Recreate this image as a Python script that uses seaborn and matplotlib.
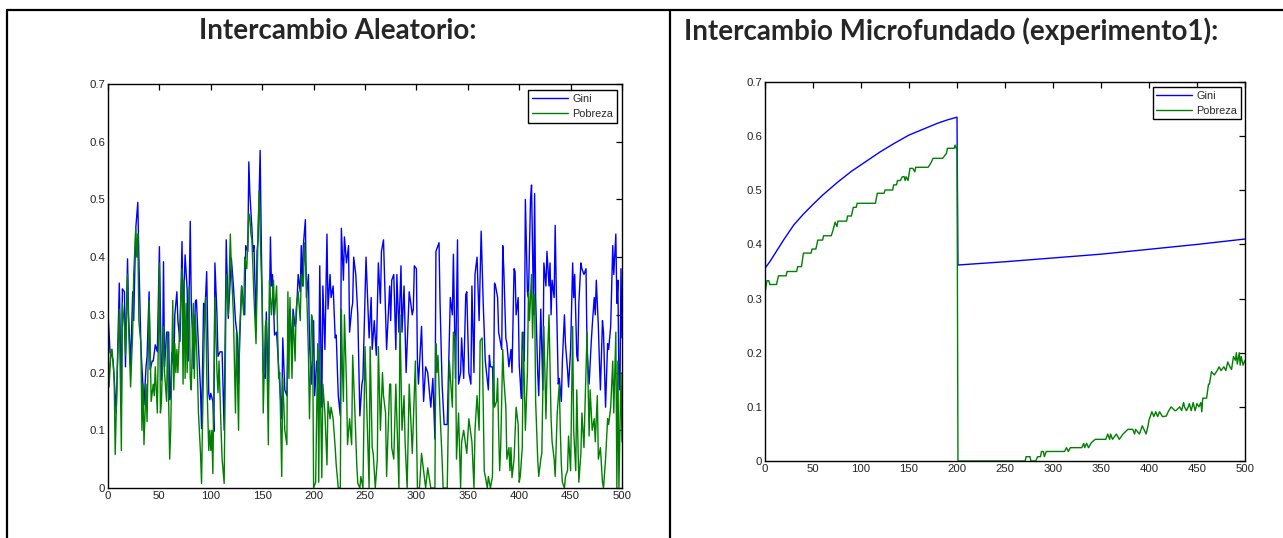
import matplotlib
matplotlib.use("Agg")
import matplotlib.pyplot as plt
from matplotlib.lines import Line2D
import seaborn as sns
import pandas as pd

# ---------------- data ----------------
series_names = ["Gini", "Pobreza"]
titles = ["Intercambio Aleatorio:", "Intercambio Microfundado (experimento1):"]
x_ticks = [0, 50, 100, 150, 200, 250, 300, 350, 400, 450, 500]
y_ticks = [0, 0.1, 0.2, 0.3, 0.4, 0.5, 0.6, 0.7]
y_tick_labels = ["0", "0.1", "0.2", "0.3", "0.4", "0.5", "0.6", "0.7"]

# Left panel: random exchange
left_gini_steps = [0, 2, 4, 5, 8, 11, 13, 14, 16, 17, 19, 20, 22, 24, 25, 27, 29, 30, 32, 33, 35, 37, 38, 40, 41, 43, 44, 46, 48, 50,
                   52, 53, 54, 55, 57, 59, 60, 61, 62, 64, 65, 67, 68, 70, 72, 73, 75, 77, 78, 80, 81, 82, 83, 85, 86, 88, 90, 91, 93, 94,
                   96, 98, 99, 100, 102, 103, 104, 106, 107, 109, 111, 113, 115, 117, 120, 122, 124, 126, 127, 128, 130, 133, 134, 136, 137, 138, 140, 141, 142, 144,
                   145, 146, 148, 149, 150, 151, 153, 154, 156, 158, 159, 160, 162, 164, 166, 167, 169, 170, 172, 174, 175, 177, 179, 180, 182, 183, 185, 187, 188, 189,
                   190, 192, 193, 195, 196, 198, 200, 201, 203, 205, 206, 207, 208, 209, 211, 213, 214, 216, 217, 219, 221, 222, 224, 226, 227, 229, 230, 232, 234, 235,
                   237, 238, 239, 241, 243, 245, 247, 248, 251, 254, 256, 257, 259, 261, 263, 265, 266, 268, 271, 274, 275, 276, 278, 280, 281, 283, 285, 286, 288, 290,
                   293, 296, 297, 298, 300, 301, 302, 305, 307, 309, 311, 314, 316, 318, 319, 322, 323, 325, 327, 330, 333, 335, 336, 338, 340, 341, 343, 344, 346, 348,
                   349, 351, 353, 354, 356, 357, 359, 361, 363, 365, 367, 370, 371, 372, 374, 375, 376, 377, 379, 380, 381, 383, 384, 385, 387, 388, 390, 392, 393, 395,
                   396, 397, 399, 400, 402, 403, 405, 406, 408, 409, 411, 412, 413, 414, 415, 416, 418, 419, 421, 423, 424, 426, 427, 429, 430, 431, 432, 434, 435, 436,
                   438, 439, 441, 442, 444, 445, 447, 448, 450, 452, 453, 454, 456, 457, 458, 460, 461, 463, 465, 466, 468, 470, 471, 473, 474, 475, 477, 478, 479, 481,
                   482, 484, 486, 487, 489, 491, 492, 494, 495, 496, 497, 498, 499, 500]
left_gini_values = [0.305, 0.235, 0.228, 0.22, 0.13, 0.355, 0.147, 0.345, 0.34, 0.21, 0.397, 0.30, 0.21, 0.34, 0.29, 0.45, 0.495, 0.40, 0.245, 0.21, 0.144, 0.21, 0.228, 0.34, 0.205, 0.22, 0.22, 0.248, 0.236, 0.418,
                    0.187, 0.2, 0.392, 0.21, 0.27, 0.27, 0.153, 0.17, 0.235, 0.21, 0.30, 0.34, 0.29, 0.254, 0.427, 0.29, 0.404, 0.343, 0.22, 0.462, 0.32, 0.274, 0.207, 0.323, 0.326, 0.245, 0.17, 0.103, 0.32, 0.294,
                    0.375, 0.164, 0.153, 0.164, 0.15, 0.098, 0.39, 0.30, 0.228, 0.236, 0.236, 0.10, 0.43, 0.294, 0.398, 0.35, 0.29, 0.26, 0.18, 0.25, 0.35, 0.30, 0.42, 0.41, 0.565, 0.51, 0.45, 0.41, 0.42, 0.28,
                    0.41, 0.43, 0.585, 0.44, 0.32, 0.2, 0.19, 0.305, 0.17, 0.435, 0.35, 0.37, 0.265, 0.27, 0.21, 0.18, 0.12, 0.26, 0.17, 0.16, 0.25, 0.31, 0.24, 0.31, 0.28, 0.29, 0.37, 0.34, 0.42, 0.35,
                    0.42, 0.465, 0.33, 0.37, 0.25, 0.18, 0.29, 0.16, 0.22, 0.18, 0.385, 0.25, 0.14, 0.35, 0.24, 0.44, 0.31, 0.37, 0.33, 0.35, 0.26, 0.265, 0.16, 0.125, 0.45, 0.36, 0.435, 0.39, 0.42, 0.27,
                    0.31, 0.32, 0.40, 0.37, 0.3, 0.125, 0.18, 0.19, 0.40, 0.26, 0.33, 0.24, 0.29, 0.23, 0.39, 0.32, 0.41, 0.43, 0.24, 0.35, 0.29, 0.36, 0.37, 0.24, 0.37, 0.27, 0.385, 0.27, 0.35, 0.2,
                    0.34, 0.30, 0.31, 0.385, 0.38, 0.22, 0.18, 0.28, 0.15, 0.21, 0.2, 0.14, 0.19, 0.085, 0.41, 0.425, 0.32, 0.18, 0.11, 0.11, 0.33, 0.30, 0.405, 0.19, 0.43, 0.18, 0.2, 0.26, 0.19, 0.335,
                    0.34, 0.2, 0.18, 0.35, 0.20, 0.37, 0.4, 0.29, 0.445, 0.32, 0.22, 0.17, 0.23, 0.21, 0.21, 0.145, 0.355, 0.35, 0.33, 0.27, 0.26, 0.24, 0.42, 0.38, 0.26, 0.25, 0.21, 0.24, 0.20, 0.38,
                    0.375, 0.30, 0.33, 0.215, 0.155, 0.27, 0.22, 0.50, 0.34, 0.33, 0.50, 0.525, 0.41, 0.30, 0.51, 0.33, 0.20, 0.16, 0.31, 0.17, 0.39, 0.35, 0.41, 0.35, 0.39, 0.30, 0.36, 0.33, 0.455, 0.35,
                    0.18, 0.19, 0.15, 0.22, 0.30, 0.25, 0.205, 0.175, 0.24, 0.39, 0.33, 0.37, 0.23, 0.22, 0.32, 0.39, 0.38, 0.37, 0.38, 0.24, 0.18, 0.25, 0.28, 0.33, 0.30, 0.36, 0.28, 0.22, 0.17, 0.29,
                    0.27, 0.14, 0.25, 0.24, 0.28, 0.42, 0.37, 0.44, 0.32, 0.36, 0.18, 0.17, 0.38, 0.26]

left_pob_steps = [0, 1, 3, 4, 6, 7, 9, 11, 13, 14, 16, 17, 19, 20, 22, 24, 25, 27, 28, 29, 30, 32, 33, 34, 35, 37, 38, 40, 41, 42,
                  44, 45, 46, 48, 50, 51, 52, 54, 55, 57, 58, 59, 60, 61, 63, 64, 65, 66, 67, 68, 70, 72, 73, 74, 75, 76, 77, 79, 80, 81,
                  83, 84, 85, 87, 88, 90, 91, 92, 94, 95, 96, 98, 99, 100, 101, 102, 104, 106, 107, 108, 110, 111, 113, 115, 117, 119, 120, 122, 124, 125,
                  127, 128, 130, 132, 133, 135, 137, 138, 139, 140, 142, 144, 146, 147, 148, 149, 150, 151, 153, 154, 156, 157, 159, 161, 162, 164, 166, 167, 169, 170,
                  172, 174, 175, 176, 177, 179, 180, 182, 183, 185, 187, 188, 190, 191, 193, 195, 196, 198, 199, 200, 201, 202, 204, 205, 206, 208, 209, 211, 213, 214,
                  216, 217, 219, 221, 222, 224, 226, 227, 228, 229, 230, 232, 233, 235, 237, 238, 240, 242, 243, 245, 246, 248, 250, 254, 255, 257, 258, 260, 262, 263,
                  265, 267, 268, 270, 271, 274, 275, 276, 278, 280, 283, 284, 286, 288, 289, 291, 293, 296, 299, 301, 303, 305, 309, 311, 314, 318, 319, 320, 321, 323,
                  325, 326, 330, 332, 335, 336, 338, 339, 341, 343, 344, 346, 349, 351, 354, 356, 357, 359, 361, 362, 364, 366, 369, 370, 372, 374, 375, 376, 378, 379,
                  380, 381, 382, 384, 385, 387, 388, 390, 391, 392, 393, 395, 396, 397, 399, 400, 401, 403, 404, 405, 406, 408, 409, 410, 412, 413, 414, 415, 416, 418,
                  419, 421, 422, 424, 426, 427, 429, 431, 432, 434, 435, 437, 439, 440, 441, 442, 444, 445, 447, 448, 450, 452, 453, 455, 456, 458, 460, 461, 463, 464,
                  466, 468, 469, 471, 473, 474, 476, 477, 479, 481, 482, 484, 486, 487, 489, 491, 492, 494, 495, 496, 497, 499, 500]
left_pob_values = [0.29, 0.175, 0.24, 0.24, 0.19, 0.058, 0.20, 0.31, 0.065, 0.32, 0.28, 0.23, 0.37, 0.28, 0.175, 0.27, 0.37, 0.45, 0.40, 0.44, 0.29, 0.25, 0.10, 0.18, 0.075, 0.18, 0.115, 0.325, 0.25, 0.15,
                   0.18, 0.16, 0.21, 0.13, 0.39, 0.13, 0.15, 0.28, 0.20, 0.15, 0.27, 0.15, 0.05, 0.10, 0.325, 0.17, 0.25, 0.2, 0.24, 0.2, 0.29, 0.38, 0.18, 0.36, 0.19, 0.32, 0.20, 0.35, 0.19, 0.17,
                   0.32, 0.19, 0.3, 0.2, 0.13, 0.06, 0.008, 0.12, 0.30, 0.33, 0.2, 0.065, 0.10, 0.065, 0.10, 0.025, 0.33, 0.2, 0.165, 0.22, 0.1, 0.05, 0.008, 0.37, 0.30, 0.44, 0.38, 0.3, 0.13, 0.27,
                   0.10, 0.27, 0.35, 0.30, 0.40, 0.38, 0.475, 0.47, 0.44, 0.43, 0.33, 0.25, 0.45, 0.515, 0.45, 0.38, 0.33, 0.13, 0.28, 0.29, 0.075, 0.36, 0.30, 0.36, 0.30, 0.35, 0.19, 0.2, 0.02, 0.19,
                   0.10, 0.075, 0.34, 0.19, 0.33, 0.19, 0.30, 0.22, 0.31, 0.34, 0.29, 0.37, 0.35, 0.425, 0.36, 0.23, 0.12, 0.30, 0.29, 0.0, 0.005, 0.01, 0.25, 0.01, 0.24, 0.018, 0.18, 0.13, 0.04, 0.15,
                   0.12, 0.14, 0.12, 0.07, 0.04, 0.0, 0.0, 0.31, 0.21, 0.15, 0.30, 0.18, 0.075, 0.12, 0.075, 0.23, 0.14, 0.04, 0.008, 0.0, 0.02, 0.0, 0.245, 0.0, 0.245, 0.07, 0.06, 0.0, 0.05, 0.245,
                   0.1, 0.20, 0.16, 0.13, 0.02, 0.18, 0.18, 0.07, 0.05, 0.18, 0.0, 0.30, 0.10, 0.16, 0.08, 0.0, 0.18, 0.06, 0.22, 0.0, 0.0, 0.06, 0.0, 0.035, 0.0, 0.0, 0.25, 0.2, 0.23, 0.13,
                   0.05, 0.0, 0.0, 0.22, 0.14, 0.27, 0.26, 0.05, 0.13, 0.0, 0.08, 0.10, 0.06, 0.12, 0.08, 0.0, 0.1, 0.16, 0.10, 0.255, 0.26, 0.03, 0.0, 0.02, 0.0, 0.02, 0.22, 0.14, 0.15, 0.19,
                   0.10, 0.03, 0.07, 0.24, 0.19, 0.14, 0.05, 0.07, 0.03, 0.07, 0.018, 0.05, 0.095, 0.14, 0.11, 0.01, 0.02, 0.07, 0.27, 0.18, 0.10, 0.20, 0.34, 0.29, 0.37, 0.26, 0.335, 0.335, 0.15, 0.05,
                   0.02, 0.05, 0.06, 0.28, 0.12, 0.20, 0.30, 0.12, 0.08, 0.05, 0.02, 0.13, 0.18, 0.10, 0.04, 0.01, 0.0, 0.02, 0.03, 0.09, 0.03, 0.28, 0.10, 0.03, 0.17, 0.01, 0.06, 0.13, 0.07, 0.14,
                   0.27, 0.09, 0.17, 0.10, 0.12, 0.08, 0.16, 0.05, 0.07, 0.01, 0.0, 0.05, 0.12, 0.11, 0.14, 0.22, 0.13, 0.27, 0.0, 0.22, 0.0, 0.2, 0.08]

# Right panel: micro-founded exchange
right_gini_steps = [0, 5, 10, 20, 30, 40, 50, 60, 75, 90, 100, 110, 120, 135, 150, 165, 180, 190, 200,
                    201, 250, 300, 350, 400, 450, 500]
right_gini_values = [0.356, 0.368, 0.382, 0.410, 0.436, 0.456, 0.474, 0.491, 0.514, 0.535, 0.547, 0.559, 0.571, 0.587,
                     0.602, 0.613, 0.624, 0.630, 0.635,
                     0.362, 0.368, 0.375, 0.382, 0.391, 0.400, 0.410]

right_pob_steps = [0, 2, 4, 5, 12, 14, 22, 23, 33, 34, 38, 40, 48, 49, 53, 54, 55, 60, 61, 69, 71, 73, 75, 76, 85, 86, 90, 92, 95, 96,
                   115, 117, 124, 125, 133, 134, 137, 138, 141, 143, 145, 146, 147, 149, 151, 154, 156, 157, 170, 173, 175, 185, 189, 190, 197, 198, 199, 200, 201, 271,
                   272, 276, 277, 282, 284, 287, 288, 290, 291, 293, 312, 314, 316, 318, 330, 332, 333, 335, 337, 340, 344, 355, 357, 359, 360, 362, 366, 369, 373, 378,
                   383, 385, 386, 390, 393, 397, 399, 400, 403, 405, 407, 409, 411, 414, 418, 420, 423, 427, 428, 432, 434, 436, 437, 439, 441, 442, 444, 446, 448, 450,
                   452, 454, 455, 456, 460, 462, 463, 465, 468, 471, 473, 475, 478, 480, 482, 484, 486, 488, 490, 491, 492, 494, 495, 496, 498, 500]
right_pob_values = [0.31, 0.333, 0.333, 0.326, 0.326, 0.342, 0.342, 0.35, 0.35, 0.359, 0.359, 0.384, 0.384, 0.3915, 0.3915, 0.40, 0.408, 0.408, 0.416, 0.416,
                    0.427, 0.441, 0.433, 0.443, 0.443, 0.4525, 0.4525, 0.4685, 0.4685, 0.476, 0.476, 0.4945, 0.4945, 0.5005, 0.5005, 0.51, 0.51, 0.518, 0.518, 0.525,
                    0.525, 0.518, 0.525, 0.518, 0.5405, 0.5405, 0.534, 0.5425, 0.5425, 0.551, 0.559, 0.559, 0.568, 0.5775, 0.5775, 0.5835, 0.578, 0.58, 0.0, 0.0,
                    0.008, 0.008, 0.0, 0.0, 0.008, 0.008, 0.0176, 0.0176, 0.008, 0.0176, 0.0176, 0.0246, 0.0176, 0.0246, 0.0246, 0.0326, 0.0246, 0.0326, 0.0246, 0.034,
                    0.040, 0.040, 0.0498, 0.040, 0.0498, 0.040, 0.0498, 0.040, 0.0498, 0.0585, 0.0585, 0.0498, 0.0585, 0.0498, 0.065, 0.0498, 0.065, 0.0757, 0.091, 0.082,
                    0.091, 0.082, 0.091, 0.082, 0.083, 0.091, 0.1, 0.093, 0.093, 0.1, 0.093, 0.108, 0.1, 0.093, 0.1, 0.106, 0.093, 0.108, 0.093, 0.106,
                    0.1, 0.108, 0.091, 0.116, 0.116, 0.142, 0.142, 0.165, 0.159, 0.167, 0.174, 0.167, 0.174, 0.167, 0.183, 0.175, 0.169, 0.193, 0.186, 0.2,
                    0.179, 0.2, 0.177, 0.193, 0.177, 0.186]


def long_frame(gini_steps, gini_vals, pob_steps, pob_vals):
    a = pd.DataFrame({"t": gini_steps, "v": gini_vals, "serie": series_names[0]})
    b = pd.DataFrame({"t": pob_steps, "v": pob_vals, "serie": series_names[1]})
    return pd.concat([a, b], ignore_index=True)


left_df = long_frame(left_gini_steps, left_gini_values, left_pob_steps, left_pob_values)
right_df = long_frame(right_gini_steps, right_gini_values, right_pob_steps, right_pob_values)

# ---------------- figure ----------------
sns.set_style("white")
plt.rcParams["font.family"] = ["Liberation Sans", "DejaVu Sans"]

W, H = 1283, 538
fig = plt.figure(figsize=(W / 100, H / 100), dpi=100)
fig.patch.set_facecolor("white")

palette = {"Gini": "#0000ff", "Pobreza": "#008000"}


def px_axes(x0, y0, x1, y1):
    return fig.add_axes([x0 / W, 1 - y1 / H, (x1 - x0) / W, (y1 - y0) / H])


ax_l = px_axes(108, 84, 622, 488)
ax_r = px_axes(765, 82, 1245, 461)

for ax, df, leg_anchor in ((ax_l, left_df, (0.990, 0.985)), (ax_r, right_df, (0.992, 0.987))):
    sns.lineplot(data=df, x="t", y="v", hue="serie", hue_order=series_names, palette=palette,
                 estimator=None, sort=False, linewidth=1.0, ax=ax)
    ax.set_xlim(0, 500)
    ax.set_ylim(0, 0.7)
    ax.set_xticks(x_ticks)
    ax.set_xticklabels([str(v) for v in x_ticks])
    ax.set_yticks(y_ticks)
    ax.set_yticklabels(y_tick_labels)
    ax.set_xlabel("")
    ax.set_ylabel("")
    ax.tick_params(direction="in", top=True, right=True, length=4, width=0.9,
                   labelsize=8.2, colors="black", pad=2)
    for lbl in ax.get_xticklabels() + ax.get_yticklabels():
        lbl.set_color("#222222")
    for s in ax.spines.values():
        s.set_visible(True)
        s.set_color("black")
        s.set_linewidth(1.0)
    handles, labels = ax.get_legend_handles_labels()
    leg = ax.legend(handles, labels, loc="upper right", bbox_to_anchor=leg_anchor,
                    borderaxespad=0, fontsize=7.8, frameon=True, fancybox=False,
                    framealpha=1, edgecolor="black", handlelength=3.3, handletextpad=0.4,
                    borderpad=0.35, labelspacing=0.45)
    leg.get_frame().set_linewidth(1.0)

# titles
fig.text(338 / W, 1 - 31 / H, titles[0], ha="center", va="center",
         fontsize=20, fontweight="bold", family=["Lato", "DejaVu Sans"])
fig.text(684 / W, 1 - 31 / H, titles[1], ha="left", va="center",
         fontsize=20, fontweight="bold", family=["Lato", "DejaVu Sans"])

# table frame lines
lw = 1.6
fig.add_artist(Line2D([7 / W, 1.0], [1 - 10 / H, 1 - 10 / H], color="black", lw=lw, transform=fig.transFigure))
fig.add_artist(Line2D([7 / W, 7 / W], [0, 1 - 10 / H], color="black", lw=lw, transform=fig.transFigure))
fig.add_artist(Line2D([670 / W, 670 / W], [0, 1 - 10 / H], color="black", lw=lw, transform=fig.transFigure))

fig.savefig("out.png", dpi=100, facecolor="white")
